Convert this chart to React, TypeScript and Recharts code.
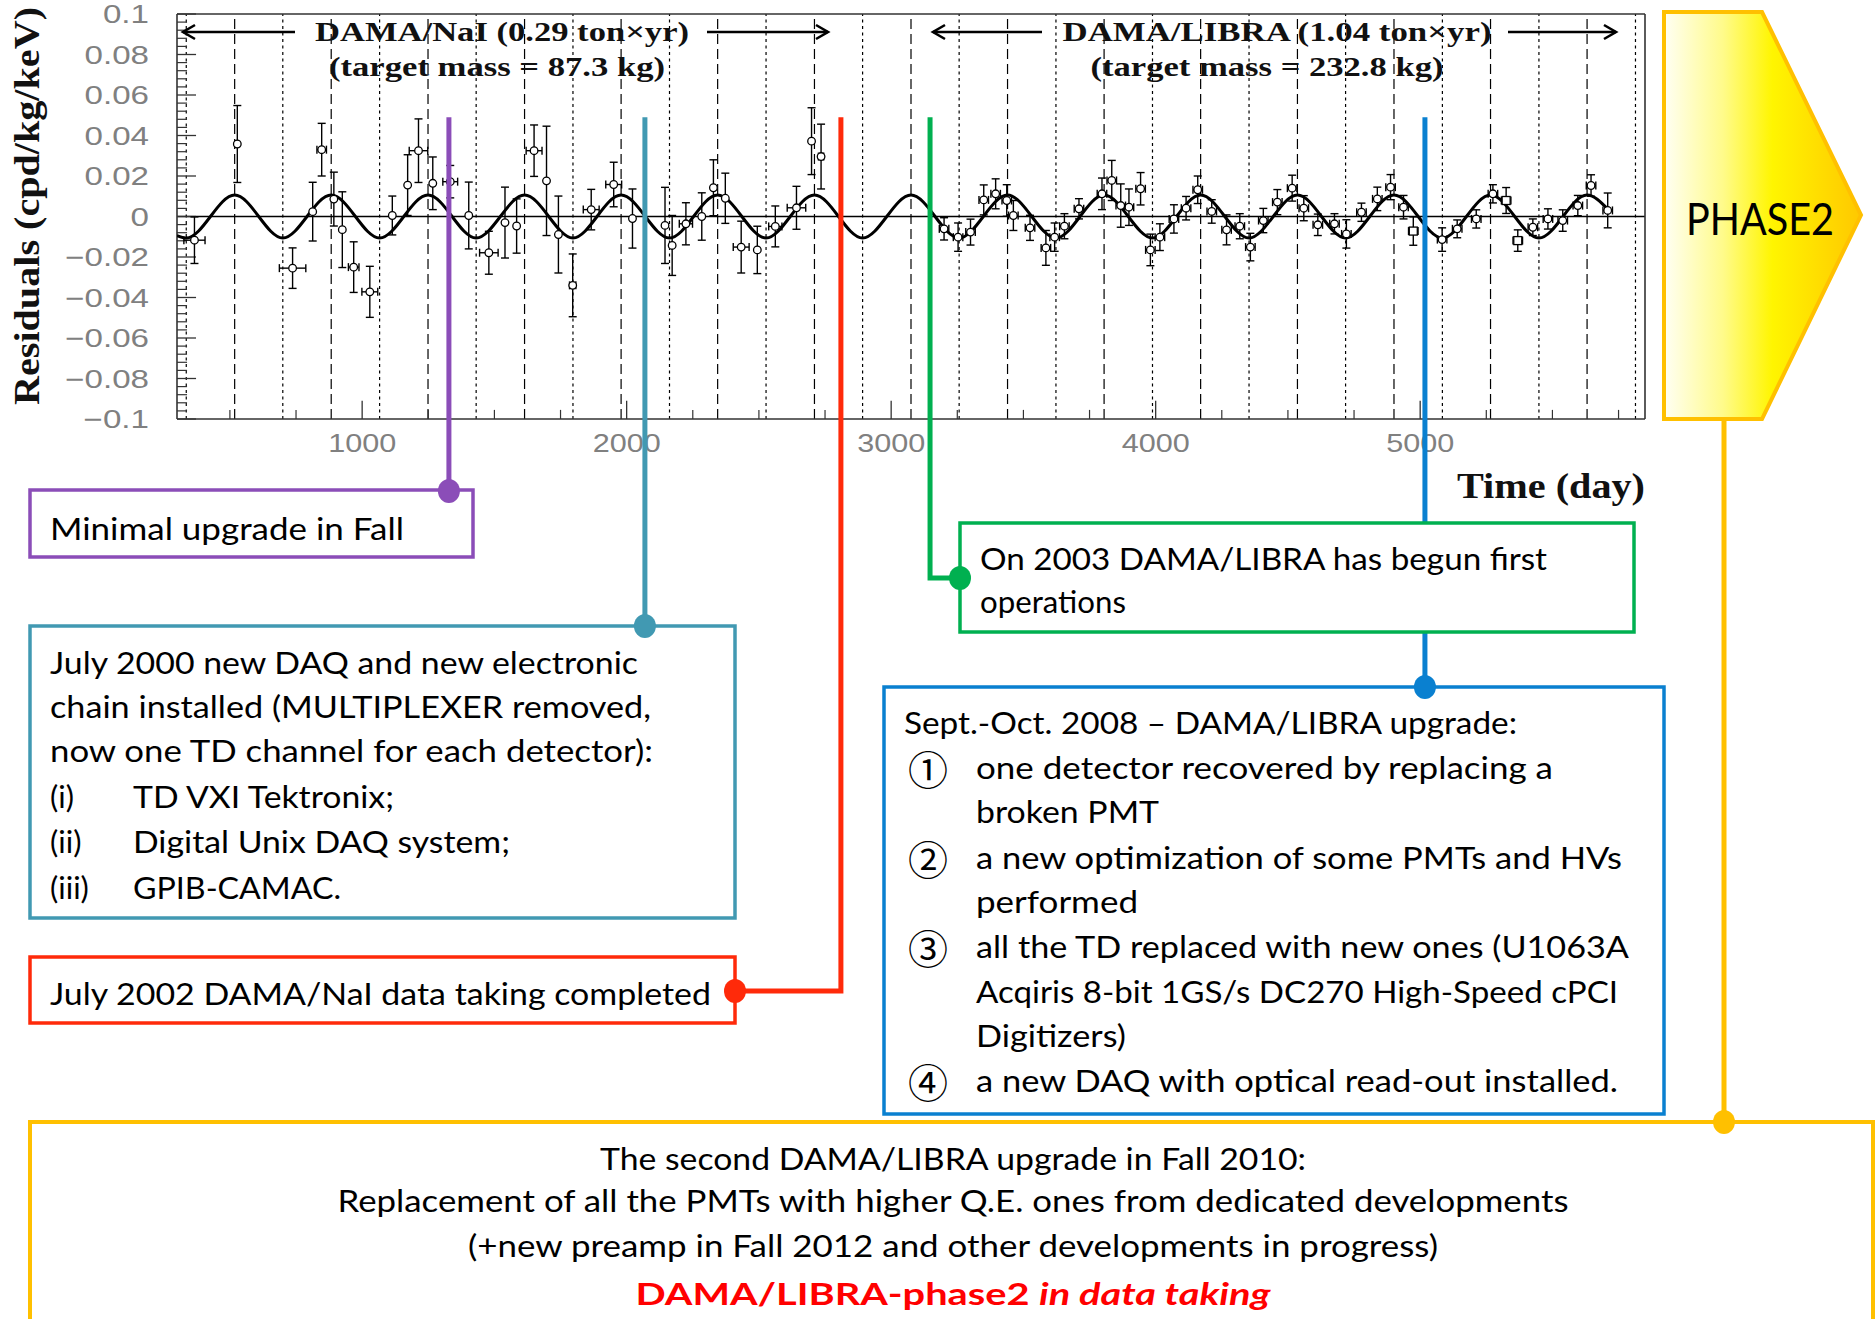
import React from 'react'
import { ComposedChart, XAxis, YAxis, Line, Scatter, ErrorBar, ReferenceLine } from 'recharts'

// DAMA/NaI residuals: day, rate (cpd/kg/keV), y error, half bin width (days)
const naiDay = [366, 528, 737, 813, 847, 893, 925, 968, 1029, 1114, 1172, 1213, 1267, 1333, 1403, 1479, 1540, 1584, 1650, 1697, 1742, 1796, 1866, 1951, 2022, 2145, 2172, 2224, 2284, 2328, 2373, 2433, 2494, 2562, 2642, 2699, 2735]
const naiRes = [-0.0117, 0.0358, -0.0255, 0.0024, 0.033, 0.0086, -0.0065, -0.025, -0.0372, 0.0005, 0.0155, 0.0325, 0.0164, 0.0172, 0.0005, -0.0179, -0.003, -0.0047, 0.0325, 0.0176, -0.0089, -0.034, 0.0034, 0.0158, -0.001, -0.0044, -0.0143, -0.0036, 0.0, 0.0142, 0.009, -0.0151, -0.0165, -0.0049, 0.0043, 0.0372, 0.0296]
const naiErr = [0.0115, 0.019, 0.010, 0.0145, 0.013, 0.0133, 0.0187, 0.0125, 0.0126, 0.0096, 0.015, 0.0157, 0.013, 0.008, 0.0165, 0.0106, 0.0175, 0.0134, 0.0127, 0.027, 0.019, 0.0155, 0.010, 0.011, 0.0146, 0.0188, 0.0148, 0.0104, 0.0117, 0.0138, 0.0124, 0.0128, 0.0117, 0.0101, 0.0106, 0.0165, 0.016]
const naiBin = [40, 0, 50, 0, 18, 0, 0, 20, 30, 0, 0, 35, 0, 28, 0, 35, 0, 0, 30, 0, 0, 12, 30, 30, 0, 0, 0, 25, 0, 0, 0, 30, 0, 25, 35, 0, 10]

// DAMA/LIBRA residuals (circles)
const libraDay = [3200, 3253, 3300, 3350, 3395, 3437, 3462, 3525, 3585, 3618, 3655, 3710, 3797, 3834, 3868, 3899, 3943, 3980, 4016, 4069, 4115, 4159, 4212, 4268, 4318, 4358, 4407, 4460, 4516, 4560, 4613, 4676, 4721, 4778, 4838, 4888, 4937, 5083, 5140, 5212, 5275, 5426, 5483, 5539, 5596, 5646, 5709]
const libraRes = [-0.0061, -0.0102, -0.0077, 0.0082, 0.0112, 0.0079, 0.0005, -0.0056, -0.0155, -0.0102, -0.0048, 0.0038, 0.0112, 0.0178, 0.0054, 0.0046, 0.0137, -0.0165, -0.0102, -0.0012, 0.0041, 0.0132, 0.0025, -0.0066, -0.0048, -0.0151, -0.002, 0.0071, 0.014, 0.0041, -0.0041, -0.0036, -0.0086, 0.0021, 0.0087, 0.0145, 0.0046, -0.0114, -0.0061, -0.0012, 0.0112, -0.0053, -0.0012, -0.002, 0.0054, 0.0153, 0.003]
const libraErr = [0.0055, 0.007, 0.0064, 0.0074, 0.0074, 0.0078, 0.0074, 0.0062, 0.0086, 0.007, 0.0062, 0.005, 0.0078, 0.0099, 0.0107, 0.009, 0.008, 0.0078, 0.0066, 0.007, 0.0058, 0.0068, 0.0058, 0.0074, 0.0062, 0.0068, 0.006, 0.0062, 0.0064, 0.0062, 0.0053, 0.005, 0.007, 0.0045, 0.0058, 0.0062, 0.0058, 0.0058, 0.0044, 0.0045, 0.0045, 0.0041, 0.005, 0.0053, 0.005, 0.0053, 0.0086]
// DAMA/LIBRA residuals (squares)
const libraSqDay = [4974, 5325, 5369]
const libraSqRes = [-0.0072, 0.0079, -0.0119]
const libraSqErr = [0.007, 0.0064, 0.0053]
const libraHalfBin = 18

// cosine fit: maxima (long dashes), minima (short dashes)
const peakDays = [518, 883, 1249, 1614, 1979, 2344, 2710, 3075, 3440, 3805, 4170, 4536, 4901, 5266, 5631]
const troughDays = [335, 700, 1066, 1431, 1797, 2162, 2527, 2892, 3257, 3623, 3988, 4353, 4718, 5084, 5449, 5814]
const fitAmp = 0.0106
const fitStart = [300, -0.0094]
const fitEnd = [5710, 0.0035]

const xTicks = [1000, 2000, 3000, 4000, 5000]
const yTicks = [0.1, 0.08, 0.06, 0.04, 0.02, 0, -0.02, -0.04, -0.06, -0.08, -0.1]

// days of the milestones the coloured connectors point at
const eventDays = [1328, 2069, 2810, 3147, 5018]

const X_MIN = 300
const X_MAX = 5850
const Y_MIN = -0.1
const Y_MAX = 0.1

const PLOT_LEFT = 177
const PLOT_TOP = 14
const PLOT_W = 1468
const PLOT_H = 405

const xPx = (d: number) => PLOT_LEFT + ((d - X_MIN) / (X_MAX - X_MIN)) * PLOT_W
const yPx = (v: number) => PLOT_TOP + ((Y_MAX - v) / (Y_MAX - Y_MIN)) * PLOT_H

const PURPLE = '#8B4DB8'
const TEAL = '#4199B2'
const RED = '#FF2A0A'
const GREEN = '#00B050'
const BLUE = '#0A80D0'
const GOLD = '#FFC000'

const SERIF = '"Liberation Serif", "DejaVu Serif", serif'
const SANS = 'Lato, "Open Sans", sans-serif'
const AXIS_FONT = '"Liberation Sans", Arial, sans-serif'

const nai = naiDay.map((d, i) => ({ day: d, res: naiRes[i], ey: naiErr[i], ex: naiBin[i] || undefined }))
const libra = libraDay.map((d, i) => ({ day: d, res: libraRes[i], ey: libraErr[i], ex: libraHalfBin }))
const libraSq = libraSqDay.map((d, i) => ({ day: d, res: libraSqRes[i], ey: libraSqErr[i], ex: libraHalfBin }))

const fitNodes = [
  { day: fitStart[0], res: fitStart[1] },
  ...peakDays.map((d) => ({ day: d, res: fitAmp })),
  ...troughDays.map((d) => ({ day: d, res: -fitAmp })),
  { day: fitEnd[0], res: fitEnd[1] },
]
  .filter((n) => n.day >= fitStart[0] && n.day <= fitEnd[0])
  .sort((a, b) => a.day - b.day)

const yMinor: number[] = []
for (let i = -25; i <= 25; i++) if (i % 5 !== 0) yMinor.push(+(i * 0.004).toFixed(3))
const xMinor: number[] = []
for (let d = 500; d < X_MAX; d += 250) if (d % 1000 !== 0) xMinor.push(d)

const fmtY = (v: number) => (v === 0 ? '0' : (v < 0 ? '\u2212' : '') + String(Math.abs(v)))

function YTick(p: any) {
  return (
    <g transform={`translate(${p.x - 28},${p.y}) scale(1.3,1)`}>
      <text textAnchor="end" dominantBaseline="central" fontFamily={AXIS_FONT} fontSize={25.5} fill="#808080">
        {fmtY(p.payload.value)}
      </text>
    </g>
  )
}

function XTick(p: any) {
  return (
    <g transform={`translate(${p.x},${p.y + 24}) scale(1.2,1)`}>
      <text textAnchor="middle" dominantBaseline="central" fontFamily={AXIS_FONT} fontSize={25.5} fill="#808080">
        {p.payload.value}
      </text>
    </g>
  )
}

const circleShape = (p: any) => (
  <circle cx={p.cx} cy={p.cy} r={3.8} fill="#fff" stroke="#000" strokeWidth={1.3} />
)
const squareShape = (p: any) => (
  <rect x={p.cx - 4} y={p.cy - 4} width={8} height={8} fill="#fff" stroke="#000" strokeWidth={1.3} />
)

function Arrow({ from, to, y }: { from: number; to: number; y: number }) {
  const s = to > from ? -1 : 1
  return (
    <g stroke="#000" strokeWidth={2.6} fill="none">
      <line x1={from} y1={y} x2={to} y2={y} />
      <polyline points={`${to + s * 12},${y - 7} ${to},${y} ${to + s * 12},${y + 7}`} />
    </g>
  )
}

function Dot({ x, y, c }: { x: number; y: number; c: string }) {
  return <ellipse cx={x} cy={y} rx={11} ry={12} fill={c} />
}

function Txt(props: any) {
  const { children, w, ...rest } = props
  return (
    <text
      fontFamily={SANS}
      fontSize={31}
      fill="#000"
      dominantBaseline="central"
      textLength={w}
      lengthAdjust="spacingAndGlyphs"
      {...rest}
    >
      {children}
    </text>
  )
}

function Circled({ y, n }: { y: number; n: string }) {
  return (
    <text x={928} y={y} textAnchor="middle" dominantBaseline="central" fontFamily='"Noto Sans CJK JP", "DejaVu Sans", sans-serif' fontSize={40} fill="#000">
      {n}
    </text>
  )
}

function Overlay() {
  const top = yPx(0.049)
  const [xPur, xTeal, xRed, xGreen, xBlue] = eventDays.map(xPx)
  return (
    <svg width={1876} height={1319} style={{ position: 'absolute', left: 0, top: 0, pointerEvents: 'none' }}>
      <defs>
        <linearGradient id="phase2" x1="0" y1="0" x2="1" y2="0">
          <stop offset="0" stopColor="#FFFFF4" />
          <stop offset="0.3" stopColor="#FFFB8A" />
          <stop offset="0.55" stopColor="#FFF500" />
          <stop offset="1" stopColor="#FFC800" />
        </linearGradient>
      </defs>

      {/* titles inside the plot */}
      <g fontFamily={SERIF} fontWeight="bold" fontSize={27} fill="#111">
        <text x={502} y={41} textAnchor="middle" textLength={374} lengthAdjust="spacingAndGlyphs">DAMA/NaI (0.29 ton×yr)</text>
        <text x={497} y={76} textAnchor="middle" textLength={336} lengthAdjust="spacingAndGlyphs">(target mass = 87.3 kg)</text>
        <text x={1277} y={41} textAnchor="middle" textLength={429} lengthAdjust="spacingAndGlyphs">DAMA/LIBRA (1.04 ton×yr)</text>
        <text x={1267} y={76} textAnchor="middle" textLength={353} lengthAdjust="spacingAndGlyphs">(target mass = 232.8 kg)</text>
      </g>
      <Arrow from={295} to={183} y={32} />
      <Arrow from={707} to={828} y={32} />
      <Arrow from={1042} to={933} y={32} />
      <Arrow from={1508} to={1616} y={32} />

      {/* axis titles */}
      <text transform="translate(39,206) rotate(-90)" textAnchor="middle" fontFamily={SERIF} fontWeight="bold" fontSize={35} fill="#111" textLength={398} lengthAdjust="spacingAndGlyphs">
        Residuals (cpd/kg/keV)
      </text>
      <text x={1457} y={498} fontFamily={SERIF} fontWeight="bold" fontSize={36} fill="#111" textLength={188} lengthAdjust="spacingAndGlyphs">
        Time (day)
      </text>

      {/* PHASE2 tag */}
      <polygon points="1664,12 1762,12 1861,215 1762,419 1664,419" fill="url(#phase2)" stroke={GOLD} strokeWidth={4} />
      <text x={1760} y={218} textAnchor="middle" dominantBaseline="central" fontFamily={SANS} fontSize={44} textLength={148} lengthAdjust="spacingAndGlyphs">
        PHASE2
      </text>

      {/* connectors */}
      <g fill="none" strokeWidth={5}>
        <path d={`M${xPur},${top} V491`} stroke={PURPLE} />
        <path d={`M${xTeal},${top} V626`} stroke={TEAL} />
        <path d={`M${xRed},${top} V991 H735`} stroke={RED} />
        <path d={`M${xBlue},${top} V687`} stroke={BLUE} />
        <path d={`M${xGreen},${top} V578 H960`} stroke={GREEN} />
        <path d="M1724,419 V1122" stroke={GOLD} />
      </g>

      {/* boxes */}
      <g fill="#fff" strokeWidth={3.5}>
        <rect x={30} y={490} width={443} height={67} stroke={PURPLE} />
        <rect x={30} y={626} width={705} height={292} stroke={TEAL} />
        <rect x={30} y={957} width={705} height={66} stroke={RED} />
        <rect x={960} y={523} width={674} height={109} stroke={GREEN} />
        <rect x={884} y={687} width={780} height={427} stroke={BLUE} />
        <rect x={30} y={1122} width={1843} height={230} stroke={GOLD} strokeWidth={4} />
      </g>

      <Dot x={xPur} y={491} c={PURPLE} />
      <Dot x={xTeal} y={626} c={TEAL} />
      <Dot x={735} y={991} c={RED} />
      <Dot x={960} y={578} c={GREEN} />
      <Dot x={xBlue} y={687} c={BLUE} />
      <Dot x={1724} y={1122} c={GOLD} />

      {/* box texts */}
      <Txt x={50} y={528} w={354}>Minimal upgrade in Fall</Txt>

      <Txt x={50} y={662} w={588}>July 2000 new DAQ and new electronic</Txt>
      <Txt x={50} y={706} w={601}>chain installed (MULTIPLEXER removed,</Txt>
      <Txt x={50} y={750} w={603}>now one TD channel for each detector):</Txt>
      <Txt x={50} y={796}>(i)</Txt>
      <Txt x={133} y={796} w={261}>TD VXI Tektronix;</Txt>
      <Txt x={50} y={841}>(ii)</Txt>
      <Txt x={133} y={841} w={377}>Digital Unix DAQ system;</Txt>
      <Txt x={50} y={887}>(iii)</Txt>
      <Txt x={133} y={887} w={208}>GPIB-CAMAC.</Txt>

      <Txt x={50} y={993} w={661}>July 2002 DAMA/NaI data taking completed</Txt>

      <Txt x={980} y={558} w={567}>On 2003 DAMA/LIBRA has begun first</Txt>
      <Txt x={980} y={601} w={146}>operations</Txt>

      <Txt x={904} y={722} w={613}>Sept.-Oct. 2008 – DAMA/LIBRA upgrade:</Txt>
      <Circled y={768} n="①" />
      <Txt x={976} y={767} w={577}>one detector recovered by replacing a</Txt>
      <Txt x={976} y={811} w={183}>broken PMT</Txt>
      <Circled y={858} n="②" />
      <Txt x={976} y={857} w={646}>a new optimization of some PMTs and HVs</Txt>
      <Txt x={976} y={901} w={162}>performed</Txt>
      <Circled y={947} n="③" />
      <Txt x={976} y={946} w={653}>all the TD replaced with new ones (U1063A</Txt>
      <Txt x={976} y={991} w={642}>Acqiris 8-bit 1GS/s DC270 High-Speed cPCI</Txt>
      <Txt x={976} y={1035} w={150}>Digitizers)</Txt>
      <Circled y={1081} n="④" />
      <Txt x={976} y={1080} w={642}>a new DAQ with optical read-out installed.</Txt>

      <Txt x={953} y={1158} w={706} textAnchor="middle">The second DAMA/LIBRA upgrade in Fall 2010:</Txt>
      <Txt x={953} y={1200} w={1231} textAnchor="middle">Replacement of all the PMTs with higher Q.E. ones from dedicated developments</Txt>
      <Txt x={953} y={1245} w={970} textAnchor="middle">(+new preamp in Fall 2012 and other developments in progress)</Txt>
      <Txt x={953} y={1293} w={635} textAnchor="middle" fontWeight="bold" fill="#FF0000">
        DAMA/LIBRA-phase2 <tspan fontStyle="italic">in data taking</tspan>
      </Txt>
    </svg>
  )
}

export default function App() {
  return (
    <div style={{ position: 'absolute', left: 0, top: 0, width: 1876, height: 1319, background: '#fff', overflow: 'hidden' }}>
      <ComposedChart width={1660} height={520} margin={{ top: PLOT_TOP, right: 15, bottom: 0, left: 77 }}>
        <XAxis
          type="number"
          dataKey="day"
          domain={[X_MIN, X_MAX]}
          allowDataOverflow
          ticks={xTicks}
          interval={0}
          height={101}
          tickSize={0}
          tickMargin={0}
          tickLine={false}
          axisLine={false}
          tick={XTick}
        />
        <YAxis
          type="number"
          domain={[Y_MIN, Y_MAX]}
          allowDataOverflow
          ticks={yTicks}
          interval={0}
          width={100}
          tickSize={0}
          tickMargin={0}
          tickLine={false}
          axisLine={false}
          tick={YTick}
        />

        {peakDays.map((d) => (
          <ReferenceLine key={'p' + d} x={d} stroke="#000" strokeWidth={1.2} strokeDasharray="10 5" />
        ))}
        {troughDays.map((d) => (
          <ReferenceLine key={'t' + d} x={d} stroke="#000" strokeWidth={1.2} strokeDasharray="3 3.5" />
        ))}
        <ReferenceLine y={0} stroke="#000" strokeWidth={1.4} />

        {yTicks.map((v) => (
          <ReferenceLine key={'yM' + v} segment={[{ x: X_MIN, y: v }, { x: X_MIN + 72, y: v }]} stroke="#333" strokeWidth={1.3} />
        ))}
        {yMinor.map((v) => (
          <ReferenceLine key={'ym' + v} segment={[{ x: X_MIN, y: v }, { x: X_MIN + 38, y: v }]} stroke="#333" strokeWidth={1.2} />
        ))}
        {xTicks.map((d) => (
          <ReferenceLine key={'xM' + d} segment={[{ x: d, y: Y_MIN }, { x: d, y: Y_MIN + 0.009 }]} stroke="#333" strokeWidth={1.3} />
        ))}
        {xMinor.map((d) => (
          <ReferenceLine key={'xm' + d} segment={[{ x: d, y: Y_MIN }, { x: d, y: Y_MIN + 0.0045 }]} stroke="#333" strokeWidth={1.2} />
        ))}

        <ReferenceLine x={X_MIN} stroke="#333" strokeWidth={1.6} />
        <ReferenceLine x={X_MAX} stroke="#333" strokeWidth={1.6} />
        <ReferenceLine y={Y_MIN} stroke="#333" strokeWidth={1.6} />
        <ReferenceLine y={Y_MAX} stroke="#333" strokeWidth={1.6} />

        <Line data={fitNodes} dataKey="res" type="monotone" stroke="#000" strokeWidth={3} dot={false} isAnimationActive={false} />

        <Scatter data={nai} dataKey="res" shape={circleShape} isAnimationActive={false}>
          <ErrorBar dataKey="ey" direction="y" width={4} stroke="#000" strokeWidth={1.4} isAnimationActive={false} />
          <ErrorBar dataKey="ex" direction="x" width={4} stroke="#000" strokeWidth={1.4} isAnimationActive={false} />
        </Scatter>
        <Scatter data={libra} dataKey="res" shape={circleShape} isAnimationActive={false}>
          <ErrorBar dataKey="ey" direction="y" width={4} stroke="#000" strokeWidth={1.4} isAnimationActive={false} />
          <ErrorBar dataKey="ex" direction="x" width={4} stroke="#000" strokeWidth={1.4} isAnimationActive={false} />
        </Scatter>
        <Scatter data={libraSq} dataKey="res" shape={squareShape} isAnimationActive={false}>
          <ErrorBar dataKey="ey" direction="y" width={4} stroke="#000" strokeWidth={1.4} isAnimationActive={false} />
          <ErrorBar dataKey="ex" direction="x" width={4} stroke="#000" strokeWidth={1.4} isAnimationActive={false} />
        </Scatter>
      </ComposedChart>
      <Overlay />
    </div>
  )
}
